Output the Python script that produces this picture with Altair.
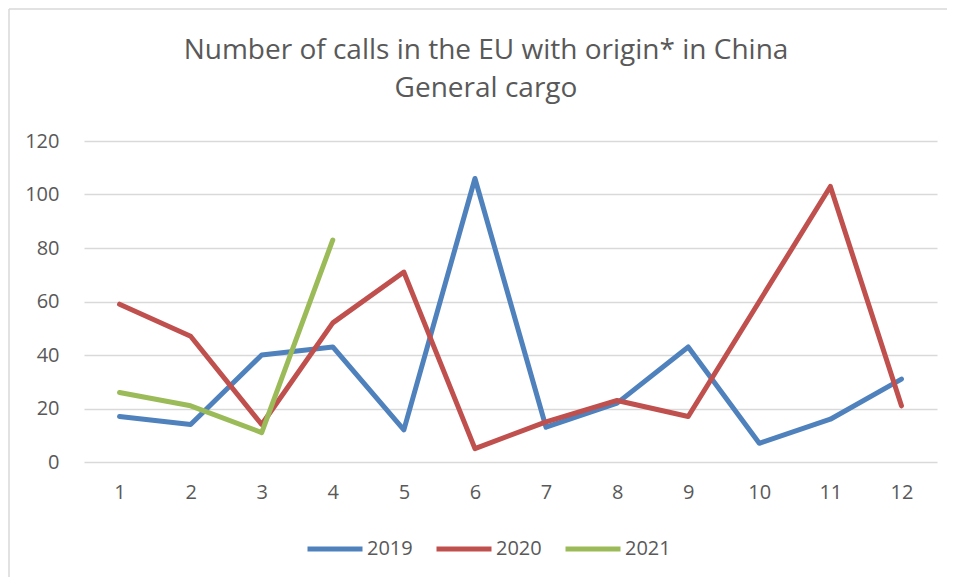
import altair as alt
import pandas as pd

months = [1, 2, 3, 4, 5, 6, 7, 8, 9, 10, 11, 12]
v2019 = [17, 14, 40, 43, 12, 106, 13, 22, 43, 7, 16, 31]
v2020 = [59, 47, 14, 52, 71, 5, 15, 23, 17, 60, 103, 21]
v2021 = [26, 21, 11, 83]
series = ["2019", "2020", "2021"]
colors = ["#4f81bd", "#c0504d", "#9bbb59"]
title_lines = ["Number of calls in the EU with origin* in China", "General cargo"]

rows = []
for name, vals in zip(series, [v2019, v2020, v2021]):
    for m, v in zip(months, vals):
        rows.append({"month": m, "value": v, "year": name})
df = pd.DataFrame(rows)

FONT = "Open Sans"
GREY = "#595959"

lines = (
    alt.Chart(df)
    .mark_line(strokeWidth=5, strokeCap="round", strokeJoin="round")
    .encode(
        x=alt.X("month:O", scale=alt.Scale(type="point", padding=0.5),
                axis=alt.Axis(title=None, labelAngle=0, ticks=False, domain=False,
                              labelPadding=20, labelFontSize=20, labelColor=GREY,
                              labelFont=FONT, grid=False)),
        y=alt.Y("value:Q", scale=alt.Scale(domain=[0, 120], nice=False),
                axis=alt.Axis(title=None, values=[0, 20, 40, 60, 80, 100, 120],
                              ticks=False, domain=False, labelPadding=25,
                              labelFontSize=20, labelColor=GREY, labelFont=FONT,
                              gridColor="#d9d9d9", gridWidth=1.3)),
        color=alt.Color("year:N", scale=alt.Scale(domain=series, range=colors),
                        legend=alt.Legend(title=None, orient="none", direction="horizontal",
                                          legendX=221, legendY=378,
                                          symbolType="stroke", symbolSize=3025,
                                          symbolStrokeWidth=5, labelFontSize=20,
                                          labelColor=GREY, labelFont=FONT,
                                          labelOffset=2, columnPadding=13)),
    )
)

frame_df = pd.DataFrame({"k": [0]})
left_border = alt.Chart(frame_df).mark_rule(color="#d9d9d9", strokeWidth=1.5).encode(
    x=alt.value(-75), y=alt.value(-132), y2=alt.value(440)
)
top_border = alt.Chart(frame_df).mark_rule(color="#d9d9d9", strokeWidth=1.5).encode(
    x=alt.value(-75), x2=alt.value(870), y=alt.value(-132)
)

title1 = alt.Chart(pd.DataFrame({"line": [title_lines[0]]})).mark_text(
    font=FONT, fontSize=28, color=GREY, baseline="middle", align="center"
).encode(text="line:N", x=alt.value(402), y=alt.value(-90))
title2 = alt.Chart(pd.DataFrame({"line": [title_lines[1]]})).mark_text(
    font=FONT, fontSize=28, color=GREY, baseline="middle", align="center"
).encode(text="line:N", x=alt.value(402), y=alt.value(-52))

chart = (
    alt.layer(left_border, top_border, title1, title2, lines)
    .properties(
        width=853,
        height=321,
        padding={"left": 76, "top": 133, "right": 10, "bottom": 115},
        autosize=alt.AutoSizeParams(type="none"),
    )
    .configure_view(stroke=None)
)

chart.save("out.html", embed_options={"renderer": "svg", "actions": False})
